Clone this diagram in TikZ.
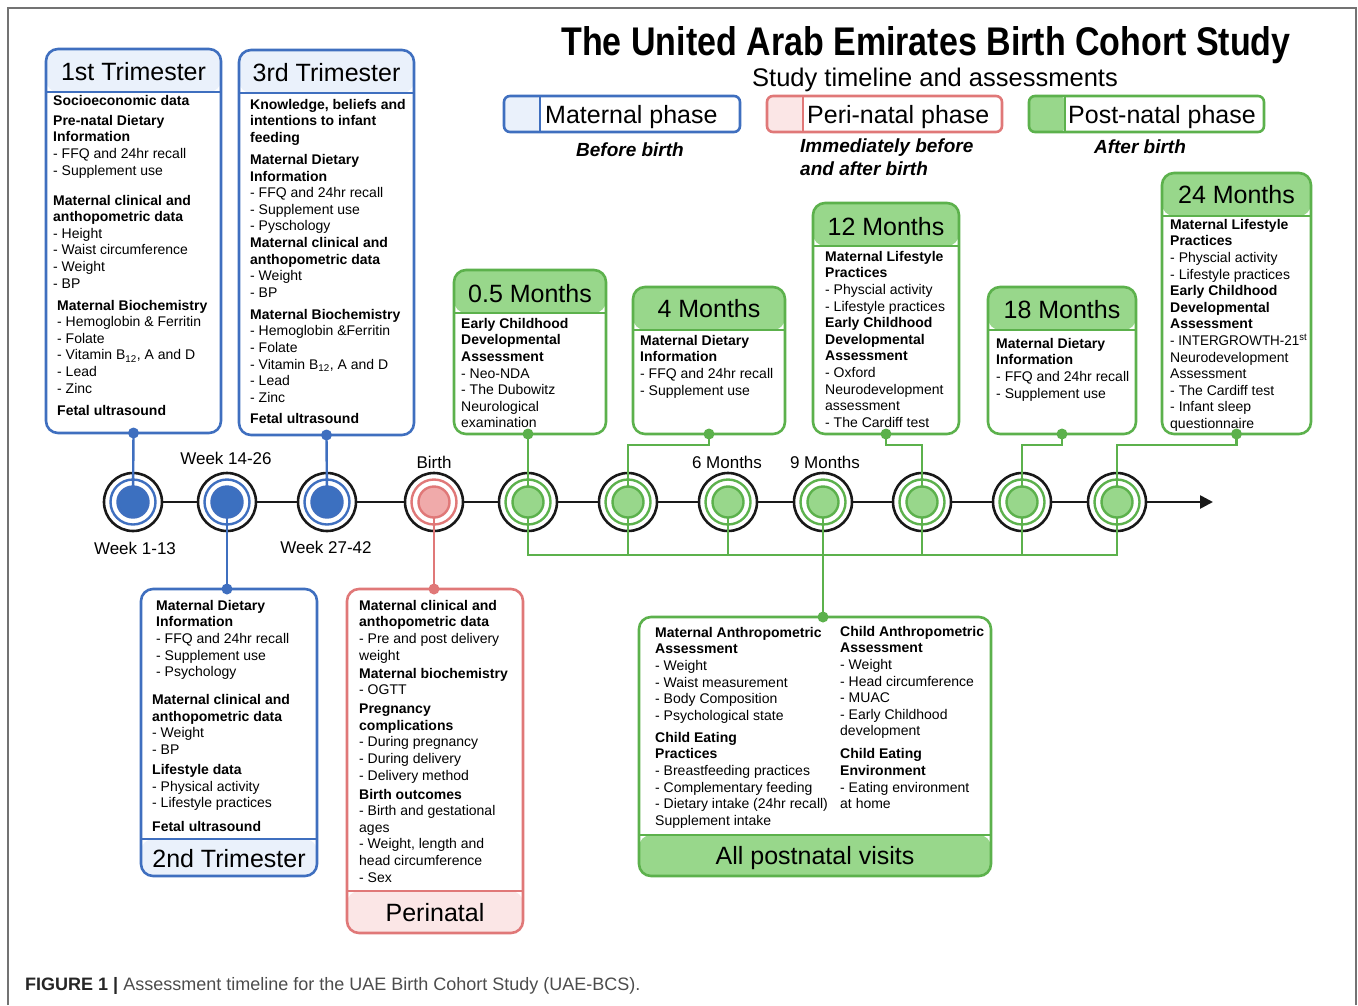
\documentclass[tikz,border=0pt]{standalone}
\usepackage{fontspec}
\setmainfont{Liberation Sans}
\usetikzlibrary{arrows.meta,backgrounds}

\definecolor{matblue}{HTML}{3F6FBF}
\definecolor{matfill}{HTML}{EAF1FB}
\definecolor{matdot}{HTML}{3C70C0}
\definecolor{perired}{HTML}{E07878}
\definecolor{perifill}{HTML}{FBE6E6}
\definecolor{peridot}{HTML}{F0AAAA}
\definecolor{postgreen}{HTML}{5CB14C}
\definecolor{postfill}{HTML}{98D78B}

\begin{document}
\begin{tikzpicture}[x=1pt, y=-1pt,
	box/.style={draw=#1, line width=2.6pt, rounded corners=12pt, fill=white, inner sep=0pt, outer sep=0pt},
	head/.style 2 args={path picture={
		\fill[#1] (path picture bounding box.north west) rectangle ([yshift=-43pt]path picture bounding box.north east);
		\draw[#2, line width=2.6pt] ([yshift=-43pt]path picture bounding box.north west) -- ([yshift=-43pt]path picture bounding box.north east);}},
	foot/.style n args={3}{path picture={
		\fill[#1] (path picture bounding box.south west) rectangle ([yshift=#3]path picture bounding box.south east);
		\draw[#2, line width=2.6pt] ([yshift=#3]path picture bounding box.south west) -- ([yshift=#3]path picture bounding box.south east);}},
	swatch/.style 2 args={path picture={
		\fill[#1] (path picture bounding box.north west) rectangle ([xshift=36pt]path picture bounding box.south west);
		\draw[#2, line width=2.6pt] ([xshift=36pt]path picture bounding box.north west) -- ([xshift=36pt]path picture bounding box.south west);}},
	headtxt/.style={font=\fontsize{25}{30}\selectfont, inner sep=0pt, text height=18pt, text depth=0pt},
	body/.style={font=\fontsize{14}{16.6}\selectfont, align=left, anchor=north west, inner sep=0pt},
	note/.style={font=\bfseries\itshape\fontsize{19}{23}\selectfont, inner sep=0pt},
	stage/.style={circle, draw=black!90, line width=2.6pt, fill=white, minimum size=58pt, inner sep=0pt,
		path picture={\draw[#1, line width=2.4pt] (path picture bounding box.center) circle[radius=22.5pt];}},
	disc/.style 2 args={circle, draw=#1, fill=#2, line width=2.4pt, minimum size=31pt, inner sep=0pt},
	link/.style={draw=#1, line width=2.4pt},
	tllabel/.style={font=\fontsize{17}{20}\selectfont, inner sep=0pt, text height=12pt, text depth=0pt},
]
	\useasboundingbox (0,0) rectangle (1358,1005);
	\draw[black!55, line width=1.2pt] (8,1005) -- (8,8) -- (1356,8) -- (1356,1005);

	% title and legend
	\node[font=\bfseries\fontsize{40}{48}\selectfont] (title) at (926,45) {\scalebox{0.85}[1]{The United Arab Emirates Birth Cohort Study}};
	\node[font=\fontsize{25.5}{30}\selectfont] (subtitle) at (935,80) {Study timeline and assessments};

	\node[box=matblue, rounded corners=6pt, swatch={matfill}{matblue}, minimum width=236pt, minimum height=36pt] (legmat) at (622,114) {};
	\node[headtxt, anchor=west] (legmattxt) at (545,114) {Maternal phase};
	\node[box=perired, rounded corners=6pt, swatch={perifill}{perired}, minimum width=235pt, minimum height=36pt] (legperi) at (884.5,114) {};
	\node[headtxt, anchor=west] (legperitxt) at (807,114) {Peri-natal phase};
	\node[box=postgreen, rounded corners=6pt, swatch={postfill}{postgreen}, minimum width=235pt, minimum height=36pt] (legpost) at (1146.5,114) {};
	\node[headtxt, anchor=west] (legposttxt) at (1068,114) {Post-natal phase};

	\node[note] (notemat) at (630,150) {Before birth};
	\node[note, anchor=north west, align=left] (noteperi) at (800,139) {Immediately before\\and after birth};
	\node[note] (notepost) at (1140,147) {After birth};

	% maternal boxes
	\node[box=matblue, head={matfill}{matblue}, minimum width=175pt, minimum height=384pt] (tri1) at (133.5,241) {};
	\node[headtxt] (tri1head) at (133.5,71) {1st Trimester};
	\node[body] (tri1txt) at (53,95) {\textbf{Socioeconomic data}\\[3.4pt]
		\textbf{Pre-natal Dietary}\\
		\textbf{Information}\\
		- FFQ and 24hr recall\\
		- Supplement use\\[13.4pt]
		\textbf{Maternal clinical and}\\
		\textbf{anthopometric data}\\
		- Height\\
		- Waist circumference\\
		- Weight\\
		- BP\\[5.4pt]
		\hspace*{4pt}\textbf{Maternal Biochemistry}\\
		\hspace*{4pt}- Hemoglobin \& Ferritin\\
		\hspace*{4pt}- Folate\\
		\hspace*{4pt}- Vitamin B\textsubscript{12}, A and D\\
		\hspace*{4pt}- Lead\\
		\hspace*{4pt}- Zinc\\[5.4pt]
		\hspace*{4pt}\textbf{Fetal ultrasound}};

	\node[box=matblue, head={matfill}{matblue}, minimum width=175pt, minimum height=385pt] (tri3) at (326.5,242.5) {};
	\node[headtxt] (tri3head) at (326.5,72) {3rd Trimester};
	\node[body] (tri3txt) at (250,99) {\textbf{Knowledge, beliefs and}\\
		\textbf{intentions to infant}\\
		\textbf{feeding}\\[5.4pt]
		\textbf{Maternal Dietary}\\
		\textbf{Information}\\
		- FFQ and 24hr recall\\
		- Supplement use\\
		- Pyschology\\
		\textbf{Maternal clinical and}\\
		\textbf{anthopometric data}\\
		- Weight\\
		- BP\\[5.4pt]
		\textbf{Maternal Biochemistry}\\
		- Hemoglobin \&Ferritin\\
		- Folate\\
		- Vitamin B\textsubscript{12}, A and D\\
		- Lead\\
		- Zinc\\[4.4pt]
		\textbf{Fetal ultrasound}};

	\node[box=matblue, foot={matfill}{matblue}{37pt}, minimum width=176pt, minimum height=287pt] (tri2) at (229,732.5) {};
	\node[headtxt] (tri2head) at (229,858) {2nd Trimester};
	\node[body] (tri2txt) at (152,600) {\hspace*{4pt}\textbf{Maternal Dietary}\\
		\hspace*{4pt}\textbf{Information}\\
		\hspace*{4pt}- FFQ and 24hr recall\\
		\hspace*{4pt}- Supplement use\\
		\hspace*{4pt}- Psychology\\[11.4pt]
		\textbf{Maternal clinical and}\\
		\textbf{anthopometric data}\\
		- Weight\\
		- BP\\[3.4pt]
		\textbf{Lifestyle data}\\
		- Physical activity\\
		- Lifestyle practices\\[7.4pt]
		\textbf{Fetal ultrasound}};

	% perinatal box
	\node[box=perired, foot={perifill}{perired}{42pt}, minimum width=176pt, minimum height=344pt] (peri) at (435,761) {};
	\node[headtxt] (perihead) at (435,912) {Perinatal};
	\node[body] (peritxt) at (359,600) {\textbf{Maternal clinical and}\\
		\textbf{anthopometric data}\\
		- Pre and post delivery\\
		weight\\[1.4pt]
		\textbf{Maternal biochemistry}\\
		- OGTT\\[2.4pt]
		\textbf{Pregnancy}\\
		\textbf{complications}\\
		- During pregnancy\\
		- During delivery\\
		- Delivery method\\[2.4pt]
		\textbf{Birth outcomes}\\
		- Birth and gestational\\
		ages\\
		- Weight, length and\\
		head circumference\\
		- Sex};

	% postnatal boxes
	\node[box=postgreen, head={postfill}{postgreen}, minimum width=152pt, minimum height=164pt] (m05) at (530,352) {};
	\node[headtxt] (m05head) at (530,293) {0.5 Months};
	\node[body] (m05txt) at (461,318) {\textbf{Early Childhood}\\
		\textbf{Developmental}\\
		\textbf{Assessment}\\
		- Neo-NDA\\
		- The Dubowitz\\
		Neurological\\
		examination};

	\node[box=postgreen, head={postfill}{postgreen}, minimum width=152pt, minimum height=147pt] (m4) at (709,360.5) {};
	\node[headtxt] (m4head) at (709,308) {4 Months};
	\node[body] (m4txt) at (640,335) {\textbf{Maternal Dietary}\\
		\textbf{Information}\\
		- FFQ and 24hr recall\\
		- Supplement use};

	\node[box=postgreen, head={postfill}{postgreen}, minimum width=146pt, minimum height=231pt] (m12) at (886,318.5) {};
	\node[headtxt] (m12head) at (886,226) {12 Months};
	\node[body] (m12txt) at (825,251) {\textbf{Maternal Lifestyle}\\
		\textbf{Practices}\\
		- Physcial activity\\
		- Lifestyle practices\\
		\textbf{Early Childhood}\\
		\textbf{Developmental}\\
		\textbf{Assessment}\\
		- Oxford\\
		Neurodevelopment\\
		assessment\\
		- The Cardiff test};

	\node[box=postgreen, head={postfill}{postgreen}, minimum width=148pt, minimum height=147pt] (m18) at (1062,360.5) {};
	\node[headtxt] (m18head) at (1062,309) {18 Months};
	\node[body] (m18txt) at (996,338) {\textbf{Maternal Dietary}\\
		\textbf{Information}\\
		- FFQ and 24hr recall\\
		- Supplement use};

	\node[box=postgreen, head={postfill}{postgreen}, minimum width=149pt, minimum height=261pt] (m24) at (1236.5,303.5) {};
	\node[headtxt] (m24head) at (1236.5,194) {24 Months};
	\node[body] (m24txt) at (1170,219) {\textbf{Maternal Lifestyle}\\
		\textbf{Practices}\\
		- Physcial activity\\
		- Lifestyle practices\\
		\textbf{Early Childhood}\\
		\textbf{Developmental}\\
		\textbf{Assessment}\\
		\scalebox{0.96}[1]{- INTERGROWTH-21\textsuperscript{st}}\\
		Neurodevelopment\\
		Assessment\\
		- The Cardiff test\\
		- Infant sleep\\
		questionnaire};

	\node[box=postgreen, foot={postfill}{postgreen}{41pt}, minimum width=352pt, minimum height=259pt] (post) at (815,746.5) {};
	\node[headtxt] (posthead) at (815,855) {All postnatal visits};
	\node[body] (postleft) at (655,627) {\textbf{Maternal Anthropometric}\\
		\textbf{Assessment}\\
		- Weight\\
		- Waist measurement\\
		- Body Composition\\
		- Psychological state\\[5.4pt]
		\textbf{Child Eating}\\
		\textbf{Practices}\\
		- Breastfeeding practices\\
		- Complementary feeding\\
		- Dietary intake (24hr recall)\\
		Supplement intake};
	\node[body] (postright) at (840,626) {\textbf{Child Anthropometric}\\
		\textbf{Assessment}\\
		- Weight\\
		- Head circumference\\
		- MUAC\\
		- Early Childhood\\
		development\\[6.4pt]
		\textbf{Child Eating}\\
		\textbf{Environment}\\
		- Eating environment\\
		at home};

	% timeline
	\node[stage=matblue] (w1) at (133,502) {};
	\node[stage=matblue] (w2) at (227,502) {};
	\node[stage=matblue] (w3) at (327,502) {};
	\node[stage=perired] (w4) at (434,502) {};
	\node[stage=postgreen] (w5) at (528,502) {};
	\node[stage=postgreen] (w6) at (628,502) {};
	\node[stage=postgreen] (w7) at (728,502) {};
	\node[stage=postgreen] (w8) at (823,502) {};
	\node[stage=postgreen] (w9) at (922,502) {};
	\node[stage=postgreen] (w10) at (1022,502) {};
	\node[stage=postgreen] (w11) at (1117,502) {};
	\coordinate (tlend) at (1213,502);
	\begin{pgfonlayer}{background}
		\draw[black!90, line width=2.6pt, -{Triangle[length=13pt, width=13pt]}] (w1.center) -- (tlend);
	\end{pgfonlayer}

	\node[tllabel] (lw1) at (135,548) {Week 1-13};
	\node[tllabel] (lw2) at (226,458) {Week 14-26};
	\node[tllabel] (lw3) at (326,547) {Week 27-42};
	\node[tllabel] (lbirth) at (434,462) {Birth};
	\node[tllabel] (l6m) at (727,462) {6 Months};
	\node[tllabel] (l9m) at (825,462) {9 Months};

	% connectors
	\draw[link=matblue] (tri1.south) -- (w1.center);
	\draw[link=matblue] (tri3.south) -- (w3.center);
	\draw[link=matblue] (w2.center) -- (w2 |- tri2.north);
	\draw[link=perired] (w4.center) -- (w4 |- peri.north);
	\draw[link=postgreen] (w5 |- m05.south) -- (w5.center);
	\draw[link=postgreen] (m4.south) -- ++(0,11) -| (w6.center);
	\draw[link=postgreen] (m12.south) -- ++(0,11) -| (w9.center);
	\draw[link=postgreen] (m18.south) -- ++(0,11) -| (w10.center);
	\draw[link=postgreen] (m24.south) -- ++(0,11) -| (w11.center);
	\coordinate (bus) at (528,555);
	\draw[link=postgreen] (w5.center) -- (bus) -| (w11.center);
	\draw[link=postgreen] (w6.center) -- (w6 |- bus);
	\draw[link=postgreen] (w7.center) -- (w7 |- bus);
	\draw[link=postgreen] (w9.center) -- (w9 |- bus);
	\draw[link=postgreen] (w10.center) -- (w10 |- bus);
	\draw[link=postgreen] (w8.center) -- (w8 |- post.north);

	\node[disc={matblue}{matdot}] (d1) at (w1) {};
	\node[disc={matblue}{matdot}] (d2) at (w2) {};
	\node[disc={matblue}{matdot}] (d3) at (w3) {};
	\node[disc={perired}{peridot}] (d4) at (w4) {};
	\node[disc={postgreen}{postfill}] (d5) at (w5) {};
	\node[disc={postgreen}{postfill}] (d6) at (w6) {};
	\node[disc={postgreen}{postfill}] (d7) at (w7) {};
	\node[disc={postgreen}{postfill}] (d8) at (w8) {};
	\node[disc={postgreen}{postfill}] (d9) at (w9) {};
	\node[disc={postgreen}{postfill}] (d10) at (w10) {};
	\node[disc={postgreen}{postfill}] (d11) at (w11) {};

	\fill[matblue] (tri1.south) circle[radius=5.5pt];
	\fill[matblue] (tri3.south) circle[radius=5.5pt];
	\fill[matblue] (w2 |- tri2.north) circle[radius=5.5pt];
	\fill[perired] (w4 |- peri.north) circle[radius=5.5pt];
	\fill[postgreen] (w5 |- m05.south) circle[radius=5.5pt];
	\fill[postgreen] (m4.south) circle[radius=5.5pt];
	\fill[postgreen] (m12.south) circle[radius=5.5pt];
	\fill[postgreen] (m18.south) circle[radius=5.5pt];
	\fill[postgreen] (m24.south) circle[radius=5.5pt];
	\fill[postgreen] (w8 |- post.north) circle[radius=5.5pt];

	% caption
	\node[anchor=west, font=\fontsize{18}{22}\selectfont, text=black!70, inner sep=0pt] (caption) at (25,986) {\textbf{\color{black!85}FIGURE 1 |} Assessment timeline for the UAE Birth Cohort Study (UAE-BCS).};
\end{tikzpicture}
\end{document}
